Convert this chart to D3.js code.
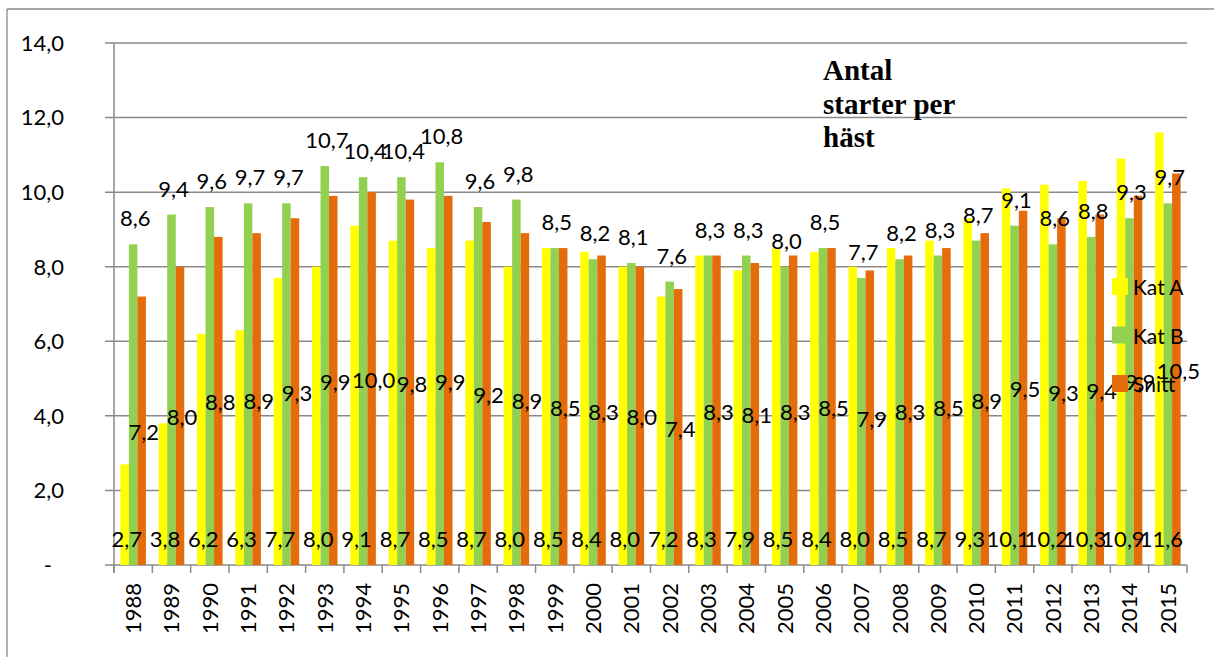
<!DOCTYPE html>
<html>
<head>
<meta charset="utf-8">
<script src="https://cdnjs.cloudflare.com/ajax/libs/d3/7.8.5/d3.min.js"></script>
<style>
  html, body { margin: 0; padding: 0; background: #fff; }
  svg { display: block; }
  text { font-family: Lato, "Open Sans", sans-serif; fill: #000; }
</style>
</head>
<body>
<svg id="chart" width="1214" height="657"></svg>
<script>
// ---- data ----
const years = ["1988","1989","1990","1991","1992","1993","1994","1995","1996","1997","1998","1999","2000","2001","2002","2003","2004","2005","2006","2007","2008","2009","2010","2011","2012","2013","2014","2015"];
const katA  = [2.7,3.8,6.2,6.3,7.7,8.0,9.1,8.7,8.5,8.7,8.0,8.5,8.4,8.0,7.2,8.3,7.9,8.5,8.4,8.0,8.5,8.7,9.3,10.1,10.2,10.3,10.9,11.6];
const katB  = [8.6,9.4,9.6,9.7,9.7,10.7,10.4,10.4,10.8,9.6,9.8,8.5,8.2,8.1,7.6,8.3,8.3,8.0,8.5,7.7,8.2,8.3,8.7,9.1,8.6,8.8,9.3,9.7];
const snitt = [7.2,8.0,8.8,8.9,9.3,9.9,10.0,9.8,9.9,9.2,8.9,8.5,8.3,8.0,7.4,8.3,8.1,8.3,8.5,7.9,8.3,8.5,8.9,9.5,9.3,9.4,9.9,10.5];
const seriesNames = ["Kat A","Kat B","Snitt"];
const yTicks = [0,2,4,6,8,10,12,14];
const titleLines = ["Antal","starter per","häst"];

const colors = {"Kat A":"#FFFF00","Kat B":"#92D050","Snitt":"#E46C0A"};
const seriesData = {"Kat A":katA,"Kat B":katB,"Snitt":snitt};
const gridColor = "#898989";

const svg = d3.select("#chart");
const pL = 114, pR = 1187, pT = 43, pB = 565;

// outer frame (top and left visible)
svg.append("line").attr("x1",7).attr("x2",1214).attr("y1",9).attr("y2",9).attr("stroke",gridColor).attr("stroke-width",1.3);
svg.append("line").attr("x1",7).attr("x2",7).attr("y1",9).attr("y2",657).attr("stroke",gridColor).attr("stroke-width",1.3);

const x = d3.scaleBand().domain(years).range([pL, pR]).paddingInner(0).paddingOuter(0);
const w = x.bandwidth() / 4.5;
const x1 = d3.scaleBand().domain(seriesNames).range([0.75*w, 3.75*w]).padding(0);
const y = d3.scaleLinear().domain([0,14]).range([pB, pT]);

// gridlines + y ticks
svg.append("g").selectAll("line").data(yTicks).join("line")
  .attr("x1", pL - 9).attr("x2", pR)
  .attr("y1", d => y(d)).attr("y2", d => y(d))
  .attr("stroke", gridColor).attr("stroke-width", 1.5);

// y axis line
svg.append("line").attr("x1",pL).attr("x2",pL).attr("y1",pT).attr("y2",pB+8)
  .attr("stroke",gridColor).attr("stroke-width",1.5);

// category tick marks
const boundaries = years.map(d => x(d)).concat([x(years[years.length-1]) + x.step()]);
svg.append("g").selectAll("line").data(boundaries).join("line")
  .attr("x1", d => d).attr("x2", d => d).attr("y1", pB).attr("y2", pB + 8)
  .attr("stroke", gridColor).attr("stroke-width", 1.5);

// y tick labels
const fmt = v => v === 0 ? "-" : d3.format(".1f")(v).replace(".", ",");
svg.append("g").selectAll("text").data(yTicks).join("text")
  .attr("x", d => d === 0 ? 52 : 64)
  .attr("y", d => y(d)).attr("dy", "0.36em")
  .attr("text-anchor", "end").attr("font-size", 22)
  .text(fmt);

// bars
const groups = svg.append("g").selectAll("g").data(years).join("g")
  .attr("transform", d => `translate(${x(d)},0)`);
groups.selectAll("rect").data((d,i) => seriesNames.map(s => ({s, v: seriesData[s][i]}))).join("rect")
  .attr("x", d => x1(d.s)).attr("width", x1.bandwidth())
  .attr("y", d => y(d.v)).attr("height", d => y(0) - y(d.v))
  .attr("fill", d => colors[d.s]);

// year labels
svg.append("g").selectAll("text").data(years).join("text")
  .attr("transform", d => `translate(${x(d) + x.bandwidth()/2},583) rotate(-90)`)
  .attr("dy", "0.36em").attr("text-anchor", "end").attr("font-size", 22)
  .text(d => d);

// data labels
const lblFmt = v => d3.format(".1f")(v).replace(".", ",");
const lab = svg.append("g");
years.forEach((yr, i) => {
  const cx = s => x(yr) + x1(s) + x1.bandwidth()/2 + 2;
  lab.append("text").attr("x", cx("Kat A")).attr("y", pB - 18)
    .attr("text-anchor","middle").attr("font-size",22).text(lblFmt(katA[i]));
  lab.append("text").attr("x", cx("Kat B")).attr("y", y(katB[i]) - 18)
    .attr("text-anchor","middle").attr("font-size",22).text(lblFmt(katB[i]));
  lab.append("text").attr("x", cx("Snitt")).attr("y", y(snitt[i]/2) + 9.5)
    .attr("text-anchor","middle").attr("font-size",22).text(lblFmt(snitt[i]));
});

// title
svg.append("g").selectAll("text").data(titleLines).join("text")
  .attr("x", 823).attr("y", (d,i) => 80 + i*33.5)
  .attr("font-weight", "bold").attr("font-size", 29)
  .style("font-family", "'Liberation Serif', 'Times New Roman', serif")
  .text(d => d);

// legend
const lg = svg.append("g").selectAll("g").data(seriesNames).join("g")
  .attr("transform", (d,i) => `translate(1112,${295 + i*48.5})`);
lg.append("rect").attr("x",0).attr("y",-17).attr("width",16).attr("height",17).attr("fill", d => colors[d]);
lg.append("text").attr("x",21).attr("y",0).attr("font-size",21).text(d => d);
</script>
</body>
</html>
